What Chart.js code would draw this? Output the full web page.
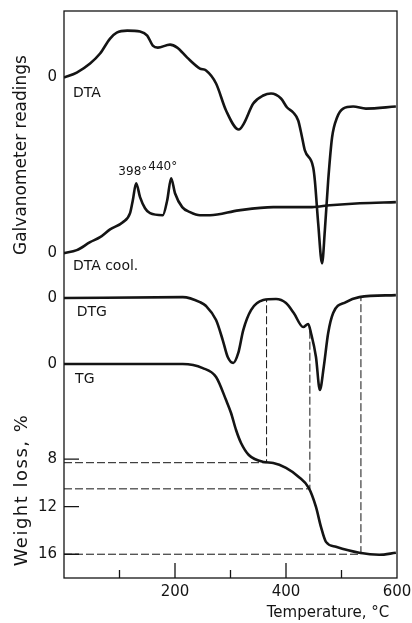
<!DOCTYPE html>
<html>
<head>
<meta charset="utf-8">
<script src="https://cdn.jsdelivr.net/npm/chart.js@4.4.1/dist/chart.umd.min.js"></script>
<style>
  html, body { margin: 0; padding: 0; background: #fff; }
</style>
</head>
<body>
<canvas id="thermo" width="412" height="623"></canvas>
<script>
  "use strict";

  // Temperature axis, °C
  const xTickValues = [100, 200, 300, 400, 500, 600];
  const xTickLabels = [200, 400, 600];

  // Weight loss ticks, %
  const wlTicks = [8, 12, 16];

  // Zero lines of the galvanometer traces, on the weight-loss scale (offset stacking)
  const zeroDTA = -24.1;
  const zeroCool = -9.33;
  const zeroDTG = -5.55;

  // DTA (heating): temperature and deflection above its zero
  const dtaT = [0, 23, 47, 65, 83, 95, 114, 137, 150, 160, 169, 191, 204, 222, 245, 256, 274, 292, 315, 324, 341, 359, 373, 391, 402, 413, 422, 429, 434, 449, 452, 458, 465, 470, 476, 483, 492, 503, 521, 544, 598];
  const dtaV = [0, 0.42, 1.18, 2.02, 3.28, 3.78, 3.95, 3.87, 3.53, 2.69, 2.52, 2.77, 2.52, 1.68, 0.76, 0.59, -0.5, -2.77, -4.37, -3.87, -2.18, -1.51, -1.34, -1.76, -2.52, -2.94, -3.61, -5.04, -6.13, -7.56, -8.66, -12.27, -15.63, -12.86, -8.66, -5.04, -3.36, -2.61, -2.44, -2.61, -2.44];

  // DTA on cooling
  const coolT = [0, 23, 47, 65, 83, 106, 119, 124, 130, 137, 146, 155, 178, 186, 193, 200, 213, 227, 245, 263, 315, 377, 447, 479, 533, 598];
  const coolV = [0, 0.25, 0.92, 1.34, 2.0, 2.6, 3.36, 4.45, 5.88, 4.71, 3.78, 3.36, 3.19, 4.45, 6.3, 5.04, 3.87, 3.45, 3.19, 3.19, 3.6, 3.87, 3.87, 4.03, 4.2, 4.29];

  // DTG
  const dtgT = [0, 214, 245, 256, 274, 286, 295, 305, 314, 323, 337, 359, 382, 400, 414, 431, 440, 445, 454, 461, 468, 476, 485, 508, 532, 598];
  const dtgV = [0, 0.08, -0.34, -0.67, -1.85, -3.53, -4.96, -5.46, -4.62, -2.69, -1.01, -0.17, -0.08, -0.42, -1.26, -2.44, -2.18, -2.94, -4.96, -7.73, -5.8, -2.94, -1.26, -0.34, 0.08, 0.25];

  // TG, weight loss %
  const tgT = [0, 214, 250, 274, 292, 301, 310, 319, 333, 360, 377, 400, 423, 441, 454, 463, 472, 490, 532, 568, 598];
  const tgW = [0, 0, 0.34, 1.09, 3.03, 4.12, 5.55, 6.64, 7.65, 8.24, 8.32, 8.74, 9.5, 10.42, 12.02, 13.7, 14.96, 15.38, 15.88, 16.05, 15.88];

  // Dashed guides: step temperature, weight loss level, DTG deflection where the guide stops
  const guideT = [365, 443, 535];
  const guideW = [8.3, 10.5, 16];
  const guideDTG = [-0.17, -2.44, 0.08];

  const INK = "#141414";

  const trace = (xs, vs, zero) => xs.map((x, i) => ({ x, y: zero - vs[i] }));

  const curveStyle = {
    borderColor: INK,
    borderWidth: 2.6,
    pointRadius: 0,
    fill: false,
    cubicInterpolationMode: "monotone",
  };

  const datasets = [
    { ...curveStyle, label: "DTA", data: trace(dtaT, dtaV, zeroDTA) },
    { ...curveStyle, label: "DTA cool.", data: trace(coolT, coolV, zeroCool) },
    { ...curveStyle, label: "DTG", data: trace(dtgT, dtgV, zeroDTG) },
    { ...curveStyle, label: "TG", data: tgT.map((x, i) => ({ x, y: tgW[i] })) },
  ];

  guideT.forEach((t, i) => {
    datasets.push({
      label: "guide " + i,
      data: [
        { x: 0, y: guideW[i] },
        { x: t, y: guideW[i] },
        { x: t, y: zeroDTG - guideDTG[i] },
      ],
      borderColor: INK,
      borderWidth: 1,
      borderDash: [8, 3],
      pointRadius: 0,
      tension: 0,
    });
  });

  // Text placed on the plot, in data coordinates
  const notes = [
    { text: "DTA", x: 16, y: -22.77, size: 14, align: "left" },
    { text: "DTA cool.", x: 16, y: -8.24, size: 14, align: "left" },
    { text: "DTG", x: 23, y: -4.37, size: 14, align: "left" },
    { text: "TG", x: 20, y: 1.26, size: 14, align: "left" },
    { text: "398°", x: 124, y: -16.2, size: 12, align: "center" },
    { text: "440°", x: 178, y: -16.6, size: 12, align: "center" },
  ];

  const decorations = {
    id: "decorations",
    beforeDatasetsDraw(chart) {
      const { ctx, chartArea: a, scales } = chart;
      ctx.save();
      ctx.strokeStyle = INK;
      ctx.lineWidth = 1.3;
      ctx.strokeRect(a.left, a.top, a.right - a.left, a.bottom - a.top);

      // x ticks point up into the plot
      ctx.beginPath();
      xTickValues.forEach((v) => {
        if (v >= 600) return;
        const px = scales.x.getPixelForValue(v);
        const len = xTickLabels.includes(v) ? 15 : 8;
        ctx.moveTo(px, a.bottom);
        ctx.lineTo(px, a.bottom - len);
      });
      // weight loss ticks point right
      wlTicks.forEach((v) => {
        const py = scales.y.getPixelForValue(v);
        ctx.moveTo(a.left, py);
        ctx.lineTo(a.left + 15, py);
      });
      ctx.stroke();
      ctx.restore();
    },
    afterDraw(chart) {
      const { ctx, scales } = chart;
      ctx.save();
      ctx.fillStyle = INK;
      ctx.textBaseline = "middle";
      notes.forEach((n) => {
        ctx.font = `${n.size}px "DejaVu Sans"`;
        ctx.textAlign = n.align;
        ctx.fillText(n.text, scales.x.getPixelForValue(n.x), scales.y.getPixelForValue(n.y));
      });

      ctx.textAlign = "center";
      ctx.font = '15px "DejaVu Sans"';
      ctx.fillText("Temperature, °C", 328, 613);

      ctx.translate(22, 0);
      ctx.rotate(-Math.PI / 2);
      ctx.font = '17px "DejaVu Sans"';
      ctx.fillText("Galvanometer readings", -155, 0);
      ctx.font = '18px "DejaVu Sans"';
      ctx.letterSpacing = "1.5px";
      ctx.fillText("Weight loss, %", -490, 0);
      ctx.restore();
    },
  };

  new Chart(document.getElementById("thermo"), {
    type: "line",
    data: { datasets },
    plugins: [decorations],
    options: {
      responsive: false,
      animation: false,
      layout: { padding: { top: 11, right: 15, left: 0, bottom: 0 } },
      plugins: { legend: { display: false }, tooltip: { enabled: false } },
      scales: {
        x: {
          type: "linear",
          min: 0,
          max: 600,
          grid: { display: false, drawTicks: false, tickLength: 0 },
          border: { display: false },
          afterBuildTicks: (s) => { s.ticks = xTickValues.map((value) => ({ value })); },
          afterFit: (s) => {
            s.height = 45;
            s.paddingLeft = 0;
            s.paddingRight = 0;
          },
          ticks: {
            autoSkip: false,
            maxRotation: 0,
            padding: 5,
            color: INK,
            font: { family: "DejaVu Sans", size: 15 },
            callback: (v) => (xTickLabels.includes(v) ? String(v) : ""),
          },
        },
        y: {
          type: "linear",
          reverse: true,
          min: -29.7,
          max: 18,
          grid: { display: false, drawTicks: false, tickLength: 0 },
          border: { display: false },
          afterBuildTicks: (s) => {
            s.ticks = [zeroDTA, zeroCool, zeroDTG, 0, ...wlTicks].map((value) => ({ value }));
          },
          afterFit: (s) => {
            s.width = 64;
            s.paddingTop = 0;
            s.paddingBottom = 0;
          },
          ticks: {
            autoSkip: false,
            padding: 7,
            color: INK,
            font: { family: "DejaVu Sans", size: 15 },
            callback: (v) => (v <= 0 ? "0" : String(v)),
          },
        },
      },
    },
  });
</script>
</body>
</html>
